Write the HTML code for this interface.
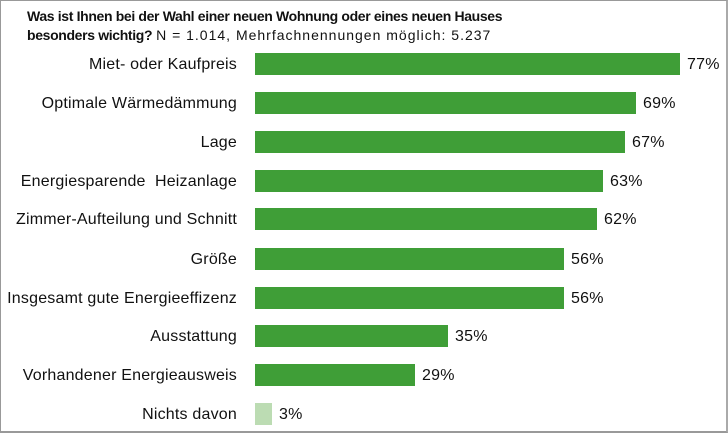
<!DOCTYPE html>
<html><head><meta charset="utf-8"><style>
body{margin:0;width:728px;height:434px;background:#fff;font-family:"Liberation Sans",sans-serif;overflow:hidden}
.f{position:absolute;left:0;top:0;width:725px;height:430px;border:1px solid #999;border-bottom:2px solid #999;border-right:2px solid #aaa}
.t{position:absolute;left:27px;font-size:14px;color:#111;white-space:nowrap}
.t b{letter-spacing:-0.35px}
.t span{letter-spacing:1px}
.l{position:absolute;right:491px;font-size:16px;letter-spacing:0.2px;color:#111;white-space:nowrap;text-align:right}
.b{position:absolute;left:255px;height:22px;background:#3f9e37}
.v{position:absolute;font-size:16px;letter-spacing:0.2px;color:#111}
</style></head><body><div class="f"></div>
<div class="t" style="top:8px"><b>Was ist Ihnen bei der Wahl einer neuen Wohnung oder eines neuen Hauses</b></div>
<div class="t" style="top:27px"><b>besonders wichtig?</b> <span>N = 1.014, Mehrfachnennungen möglich: 5.237</span></div>
<div id="c"></div>
<script>
var d=[["Miet- oder Kaufpreis",77,53],["Optimale Wärmedämmung",69,92],["Lage",67,131],["Energiesparende&nbsp; Heizanlage",63,170],["Zimmer-Aufteilung und Schnitt",62,208],["Größe",56,248],["Insgesamt gute Energieeffizenz",56,287],["Ausstattung",35,325],["Vorhandener Energieausweis",29,364],["Nichts davon",3,403]];
var h="";d.forEach(function(r){var w=Math.round(r[1]*5.52);var c=r[1]==3?"#bcdcb3":"#3f9e37";
h+='<div class="l" style="top:'+(r[2]+3)+'px">'+r[0]+'</div><div class="b" style="top:'+r[2]+'px;width:'+w+'px;background:'+c+'"></div><div class="v" style="top:'+(r[2]+3)+'px;left:'+(255+w+7)+'px">'+r[1]+'%</div>';});
document.getElementById("c").innerHTML=h;
</script></body></html>
